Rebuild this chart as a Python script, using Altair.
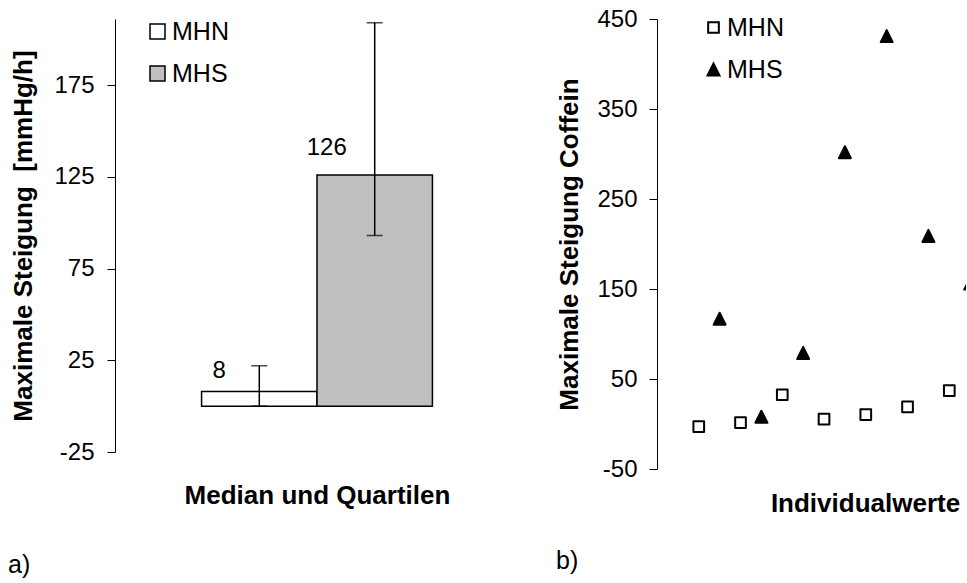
import altair as alt
import pandas as pd

# Panel a: median and quartiles per group
groups = ["MHN", "MHS"]
medians = [8, 126]
q1_values = [0, 93]
q3_values = [22, 209]

# Panel b: individual values per subject
mhn_x = [1, 2, 3, 4, 5, 6, 7]
mhn_values = [-3, 1.5, 32.5, 5.5, 10.5, 19, 37]
mhs_x = [1.5, 2.5, 3.5, 4.5, 5.5, 6.5, 7.5]
mhs_values = [117, 8, 79, 302, 431, 209, 156]

FONT = "Liberation Sans"
HYPHEN_LABELS = "replace(datum.label, '\u2212', '-')"

summary = pd.DataFrame({"group": groups, "median": medians, "q1": q1_values, "q3": q3_values})
points = pd.DataFrame({
    "x": mhn_x + mhs_x,
    "value": mhn_values + mhs_values,
    "group": ["MHN"] * len(mhn_x) + ["MHS"] * len(mhs_x),
})

# ---------- panel a ----------
x_a = alt.X(
    "group:N",
    scale=alt.Scale(domain=groups, paddingInner=0, paddingOuter=0.75),
    axis=alt.Axis(title="Median und Quartilen", labels=False, ticks=False, domain=False,
                  titleFontSize=26, titleFontWeight="bold", titleColor="black",
                  titlePadding=30, titleFont=FONT),
)
y_scale_a = alt.Scale(domain=[-25, 211], nice=False, zero=False)
y_a = alt.Y(
    "median:Q",
    scale=y_scale_a,
    axis=alt.Axis(title="Maximale Steigung\u00a0 [mmHg/h]", values=[-25, 25, 75, 125, 175],
                  labelExpr=HYPHEN_LABELS,
                  grid=False, tickSize=8, labelPadding=13, labelFontSize=24,
                  labelColor="black", tickColor="black", domainColor="black",
                  titleFontSize=26, titleFontWeight="bold", titleColor="black",
                  titlePadding=17, labelFont=FONT, titleFont=FONT),
)

bars = alt.Chart(summary).mark_bar(stroke="black", strokeWidth=1.5).encode(
    x=x_a,
    y=y_a,
    fill=alt.Fill(
        "group:N",
        scale=alt.Scale(domain=groups, range=["white", "#c0c0c0"]),
        legend=alt.Legend(title=None, orient="none", legendX=30, legendY=0,
                          symbolType="square", symbolSize=225, symbolStrokeColor="black",
                          symbolStrokeWidth=1.5, labelFontSize=25, labelColor="black",
                          labelFont=FONT, labelOffset=2, rowPadding=16, padding=0),
    ),
)

whisker = alt.Chart(summary).mark_rule(color="black", strokeWidth=1.5).encode(
    x="group:N", y=alt.Y("q1:Q", scale=y_scale_a), y2="q3:Q"
)
cap_low = alt.Chart(summary).mark_tick(color="black", thickness=1.5, size=16).encode(
    x="group:N", y=alt.Y("q1:Q", scale=y_scale_a)
)
cap_high = alt.Chart(summary).mark_tick(color="black", thickness=1.5, size=16).encode(
    x="group:N", y=alt.Y("q3:Q", scale=y_scale_a)
)

label_mhn = alt.Chart(summary).transform_filter(alt.datum.group == "MHN").mark_text(
    fontSize=24, font=FONT, color="black", baseline="alphabetic", dx=-40, dy=-13
).encode(x="group:N", y=alt.Y("median:Q", scale=y_scale_a), text=alt.Text("median:Q", format="d"))
label_mhs = alt.Chart(summary).transform_filter(alt.datum.group == "MHS").mark_text(
    fontSize=24, font=FONT, color="black", baseline="alphabetic", dx=-48, dy=-20
).encode(x="group:N", y=alt.Y("median:Q", scale=y_scale_a), text=alt.Text("median:Q", format="d"))

tag_a = alt.Chart(pd.DataFrame({"tag": ["a)"]})).mark_text(
    fontSize=25, font=FONT, color="black", align="left", baseline="alphabetic"
).encode(x=alt.value(-107), y=alt.value(554), text="tag:N")

panel_a = alt.layer(bars, whisker, cap_low, cap_high, label_mhn, label_mhs, tag_a).properties(
    width=404, height=433
)

# ---------- panel b ----------
triangle = "M0,-1L1,1L-1,1Z"
legend_b = alt.Legend(
    title=None, orient="none", legendX=44, legendY=-4,
    labelFontSize=25, labelColor="black", labelFont=FONT,
    labelOffset=1, rowPadding=16, padding=0, symbolStrokeWidth=2,
)
scatter = alt.Chart(points).mark_point(
    filled=True, strokeWidth=2, strokeJoin="round", opacity=1, clip=True
).encode(
    x=alt.X("x:Q", scale=alt.Scale(domain=[0, 7.4], nice=False, zero=True),
            axis=alt.Axis(title="Individualwerte", labels=False, ticks=False, domain=False,
                          grid=False, titleFontSize=26, titleFontWeight="bold",
                          titleColor="black", titlePadding=21, titleX=208, titleFont=FONT)),
    y=alt.Y("value:Q", scale=alt.Scale(domain=[-50, 450], nice=False, zero=False),
            axis=alt.Axis(title="Maximale Steigung Coffein", values=[-50, 50, 150, 250, 350, 450],
                          labelExpr=HYPHEN_LABELS,
                          grid=False, tickSize=8, labelPadding=12, labelFontSize=24,
                          labelColor="black", tickColor="black", domainColor="black",
                          titleFontSize=26, titleFontWeight="bold", titleColor="black",
                          titlePadding=14, labelFont=FONT, titleFont=FONT)),
    shape=alt.Shape("group:N", scale=alt.Scale(domain=groups, range=["square", triangle]),
                    legend=legend_b),
    fill=alt.Fill("group:N", scale=alt.Scale(domain=groups, range=["white", "black"]),
                  legend=legend_b),
    stroke=alt.Stroke("group:N", scale=alt.Scale(domain=groups, range=["black", "black"]),
                      legend=legend_b),
    size=alt.Size("group:N", scale=alt.Scale(domain=groups, range=[114, 144]),
                  legend=legend_b),
)

tag_b = alt.Chart(pd.DataFrame({"tag": ["b)"]})).mark_text(
    fontSize=25, font=FONT, color="black", align="left", baseline="alphabetic"
).encode(x=alt.value(-101), y=alt.value(550), text="tag:N")

panel_b = alt.layer(scatter, tag_b).properties(width=309, height=450)

chart = alt.hconcat(panel_a, panel_b, spacing=37).properties(
    padding={"left": 8, "top": 7, "right": 0, "bottom": 0}
).resolve_scale(
    fill="independent", shape="independent", size="independent", stroke="independent"
).configure(font=FONT).configure_view(stroke=None).configure_axis(domainWidth=1, tickWidth=1)

chart.save("out.html", embed_options={"renderer": "svg", "actions": False})
